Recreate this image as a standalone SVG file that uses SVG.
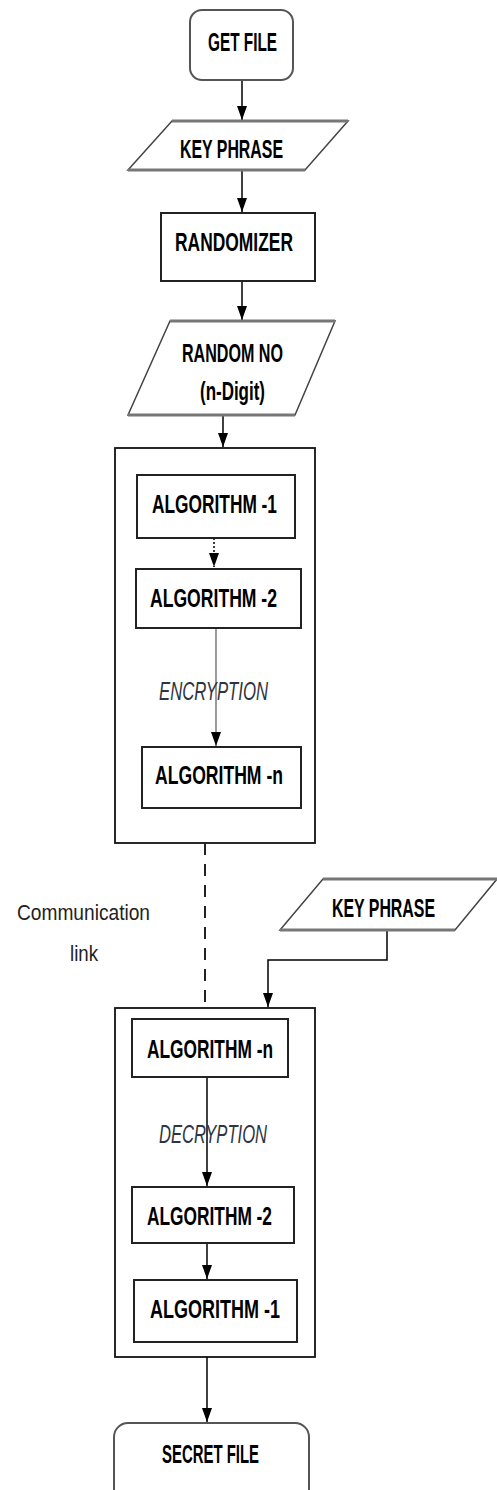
<svg xmlns="http://www.w3.org/2000/svg" width="497" height="1490" viewBox="0 0 497 1490">
<defs>
<marker id="ah" markerUnits="userSpaceOnUse" markerWidth="16" markerHeight="12" refX="14" refY="5" orient="auto"><path d="M0,0 L14,5 L0,10 z" fill="#000"/></marker>
<style>
.lbl{font-family:"Liberation Sans Narrow","Liberation Sans",Arial,sans-serif;font-weight:bold;font-size:25px;fill:#000;text-anchor:middle}
.ital{font-family:"Liberation Sans Narrow","Liberation Sans",Arial,sans-serif;font-style:italic;font-size:25px;fill:#2e3440;text-anchor:middle}
.reg{font-family:"Liberation Sans Narrow","Liberation Sans",Arial,sans-serif;font-size:22px;fill:#222;text-anchor:middle}
.box{fill:#fff;stroke:#222;stroke-width:2}
.rbox{fill:#fff;stroke:#555;stroke-width:2}
.para{fill:#fff;stroke:#444;stroke-width:1.5}
.pedge{stroke:#777;stroke-width:3}
.cont{fill:none;stroke:#111;stroke-width:1.8}
.ln{fill:none;stroke:#000;stroke-width:1.5}
</style>
</defs>
<rect width="497" height="1490" fill="#fff"/>
<g id="containers">
<rect id="encryption-group" class="cont" x="115" y="448" width="200" height="395"/>
<rect id="decryption-group" class="cont" x="115" y="1008" width="200" height="349"/>
</g>
<g id="connectors">
<line class="ln" x1="242" y1="80" x2="242" y2="120" marker-end="url(#ah)"/>
<line class="ln" x1="242" y1="170" x2="242" y2="212" marker-end="url(#ah)"/>
<line class="ln" x1="242" y1="281" x2="242" y2="320" marker-end="url(#ah)"/>
<line class="ln" x1="223" y1="415" x2="223" y2="447" marker-end="url(#ah)"/>
<line class="ln" x1="214" y1="538" x2="214" y2="567" stroke-dasharray="2,2" marker-end="url(#ah)"/>
<line x1="216" y1="628" x2="216" y2="746" stroke="#666" stroke-width="1.3" marker-end="url(#ah)"/>
<line x1="205" y1="843" x2="205" y2="1008" stroke="#222" stroke-width="2" stroke-dasharray="12,9"/>
<polyline class="ln" points="387,930 387,960 268,960 268,1007" marker-end="url(#ah)"/>
<line class="ln" x1="207" y1="1077" x2="207" y2="1186" marker-end="url(#ah)"/>
<line class="ln" x1="207" y1="1243" x2="207" y2="1279" marker-end="url(#ah)"/>
<line class="ln" x1="207" y1="1357" x2="207" y2="1422" marker-end="url(#ah)"/>
</g>
<g id="get-file">
<rect class="rbox" x="190" y="10" width="103" height="70" rx="12"/>
<text class="lbl" x="242.5" y="51" textLength="69" lengthAdjust="spacingAndGlyphs">GET FILE</text>
</g>
<g id="key-phrase-1">
<polygon class="para" points="172,121 348,121 305,170 128,170"/>
<line class="pedge" x1="172" y1="121" x2="348" y2="121"/>
<line class="pedge" x1="128" y1="170" x2="305" y2="170"/>
<text class="lbl" x="231.5" y="158" textLength="103" lengthAdjust="spacingAndGlyphs">KEY PHRASE</text>
</g>
<g id="randomizer">
<rect class="box" x="161" y="213" width="154" height="68"/>
<text class="lbl" x="234" y="251" textLength="118" lengthAdjust="spacingAndGlyphs">RANDOMIZER</text>
</g>
<g id="random-no">
<polygon class="para" points="170,321 335,321 295,415 128,415"/>
<line class="pedge" x1="170" y1="321" x2="335" y2="321"/>
<line class="pedge" x1="128" y1="415" x2="295" y2="415"/>
<text class="lbl" x="232.5" y="362" textLength="101" lengthAdjust="spacingAndGlyphs">RANDOM NO</text>
<text class="lbl" x="232.5" y="400" textLength="65" lengthAdjust="spacingAndGlyphs">(n-Digit)</text>
</g>
<g id="enc-algorithm-1">
<rect class="box" x="137" y="475" width="158" height="63"/>
<text class="lbl" x="214.5" y="513" textLength="125" lengthAdjust="spacingAndGlyphs">ALGORITHM -1</text>
</g>
<g id="enc-algorithm-2">
<rect class="box" x="136" y="569" width="165" height="59"/>
<text class="lbl" x="213.5" y="607" textLength="127" lengthAdjust="spacingAndGlyphs">ALGORITHM -2</text>
</g>
<g id="encryption-label">
<text class="ital" x="213.5" y="700" textLength="109" lengthAdjust="spacingAndGlyphs">ENCRYPTION</text>
</g>
<g id="enc-algorithm-n">
<rect class="box" x="142" y="747" width="159" height="61"/>
<text class="lbl" x="219" y="784" textLength="128" lengthAdjust="spacingAndGlyphs">ALGORITHM -n</text>
</g>
<g id="communication-link">
<text class="reg" x="83.5" y="920" textLength="133" lengthAdjust="spacingAndGlyphs">Communication</text>
<text class="reg" x="84" y="961" textLength="28" lengthAdjust="spacingAndGlyphs">link</text>
</g>
<g id="key-phrase-2">
<polygon class="para" points="323,879 497,879 455,930 280,930"/>
<line class="pedge" x1="323" y1="879" x2="497" y2="879"/>
<line class="pedge" x1="280" y1="930" x2="455" y2="930"/>
<text class="lbl" x="383.5" y="917" textLength="103" lengthAdjust="spacingAndGlyphs">KEY PHRASE</text>
</g>
<g id="dec-algorithm-n">
<rect class="box" x="132" y="1019" width="156" height="58"/>
<text class="lbl" x="210" y="1058" textLength="126" lengthAdjust="spacingAndGlyphs">ALGORITHM -n</text>
</g>
<g id="decryption-label">
<text class="ital" x="213" y="1143" textLength="108" lengthAdjust="spacingAndGlyphs">DECRYPTION</text>
</g>
<g id="dec-algorithm-2">
<rect class="box" x="132" y="1187" width="162" height="56"/>
<text class="lbl" x="209.5" y="1225" textLength="125" lengthAdjust="spacingAndGlyphs">ALGORITHM -2</text>
</g>
<g id="dec-algorithm-1">
<rect class="box" x="134" y="1280" width="163" height="62"/>
<text class="lbl" x="215" y="1318" textLength="130" lengthAdjust="spacingAndGlyphs">ALGORITHM -1</text>
</g>
<g id="secret-file">
<rect class="rbox" x="114" y="1423" width="195" height="80" rx="14"/>
<text class="lbl" x="210.5" y="1463" textLength="97" lengthAdjust="spacingAndGlyphs">SECRET FILE</text>
</g>
</svg>
